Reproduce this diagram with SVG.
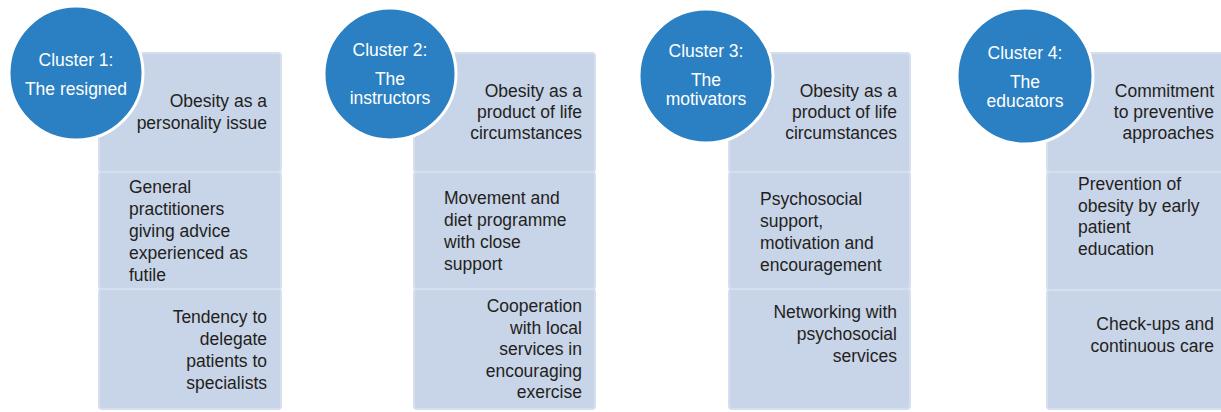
<svg xmlns="http://www.w3.org/2000/svg" width="1221" height="412" viewBox="0 0 1221 412">
<style>
.seg{fill:#c8d4e8;stroke:#d6dfee;stroke-width:2}
.circ{fill:#2a80c2;stroke:#ffffff;stroke-width:3}
.t{font-family:"Liberation Sans",Arial,sans-serif;font-size:17.5px;fill:#231f20}
.r{text-anchor:end}
.c{font-family:"Liberation Sans",Arial,sans-serif;font-size:17.5px;fill:#ffffff;text-anchor:middle}
</style>
<rect width="1221" height="412" fill="#ffffff"/>
<g id="cluster1">
<rect class="seg" x="99" y="53" width="182" height="119" rx="3"/>
<rect class="seg" x="99" y="172" width="182" height="117" rx="3"/>
<rect class="seg" x="99" y="289" width="182" height="120" rx="3"/>
<text class="t r" x="267"><tspan x="267" y="107">Obesity as a</tspan><tspan x="267" y="129">personality issue</tspan></text>
<text class="t"><tspan x="129" y="193">General</tspan><tspan x="129" y="215">practitioners</tspan><tspan x="129" y="237">giving advice</tspan><tspan x="129" y="259">experienced as</tspan><tspan x="129" y="281">futile</tspan></text>
<text class="t r"><tspan x="267" y="323">Tendency to</tspan><tspan x="267" y="345">delegate</tspan><tspan x="267" y="367">patients to</tspan><tspan x="267" y="389">specialists</tspan></text>
<circle class="circ" cx="76" cy="73" r="67"/>
<text class="c"><tspan x="76" y="66">Cluster 1:</tspan><tspan x="76" y="95">The resigned</tspan></text>
</g>
<g id="cluster2">
<rect class="seg" x="414" y="53" width="181" height="119" rx="3"/>
<rect class="seg" x="414" y="172" width="181" height="117" rx="3"/>
<rect class="seg" x="414" y="289" width="181" height="120" rx="3"/>
<text class="t r"><tspan x="582" y="97">Obesity as a</tspan><tspan x="582" y="118">product of life</tspan><tspan x="582" y="139">circumstances</tspan></text>
<text class="t"><tspan x="444" y="204">Movement and</tspan><tspan x="444" y="226">diet programme</tspan><tspan x="444" y="248">with close</tspan><tspan x="444" y="270">support</tspan></text>
<text class="t r"><tspan x="582" y="312">Cooperation</tspan><tspan x="582" y="333.5">with local</tspan><tspan x="582" y="355">services in</tspan><tspan x="582" y="376.5">encouraging</tspan><tspan x="582" y="398">exercise</tspan></text>
<circle class="circ" cx="390" cy="74" r="66"/>
<text class="c"><tspan x="390" y="56">Cluster 2:</tspan><tspan x="390" y="85">The</tspan><tspan x="390" y="104">instructors</tspan></text>
</g>
<g id="cluster3">
<rect class="seg" x="729" y="53" width="181" height="119" rx="3"/>
<rect class="seg" x="729" y="172" width="181" height="117" rx="3"/>
<rect class="seg" x="729" y="289" width="181" height="120" rx="3"/>
<text class="t r"><tspan x="897" y="97">Obesity as a</tspan><tspan x="897" y="118">product of life</tspan><tspan x="897" y="139">circumstances</tspan></text>
<text class="t"><tspan x="760" y="205">Psychosocial</tspan><tspan x="760" y="227">support,</tspan><tspan x="760" y="249">motivation and</tspan><tspan x="760" y="271">encouragement</tspan></text>
<text class="t r"><tspan x="897" y="318">Networking with</tspan><tspan x="897" y="340">psychosocial</tspan><tspan x="897" y="362">services</tspan></text>
<circle class="circ" cx="706" cy="76" r="67"/>
<text class="c"><tspan x="706" y="57">Cluster 3:</tspan><tspan x="706" y="86">The</tspan><tspan x="706" y="105">motivators</tspan></text>
</g>
<g id="cluster4">
<rect class="seg" x="1047" y="53" width="185" height="119" rx="3"/>
<rect class="seg" x="1047" y="172" width="185" height="118" rx="3"/>
<rect class="seg" x="1047" y="290" width="185" height="119" rx="3"/>
<text class="t r"><tspan x="1214" y="97">Commitment</tspan><tspan x="1214" y="118">to preventive</tspan><tspan x="1214" y="139">approaches</tspan></text>
<text class="t"><tspan x="1078" y="190">Prevention of</tspan><tspan x="1078" y="212">obesity by early</tspan><tspan x="1078" y="233">patient</tspan><tspan x="1078" y="255">education</tspan></text>
<text class="t r"><tspan x="1214" y="330">Check-ups and</tspan><tspan x="1214" y="352">continuous care</tspan></text>
<circle class="circ" cx="1025" cy="76" r="68"/>
<text class="c"><tspan x="1025" y="59">Cluster 4:</tspan><tspan x="1025" y="88">The</tspan><tspan x="1025" y="107">educators</tspan></text>
</g>
<g id="connectors"></g>
</svg>
